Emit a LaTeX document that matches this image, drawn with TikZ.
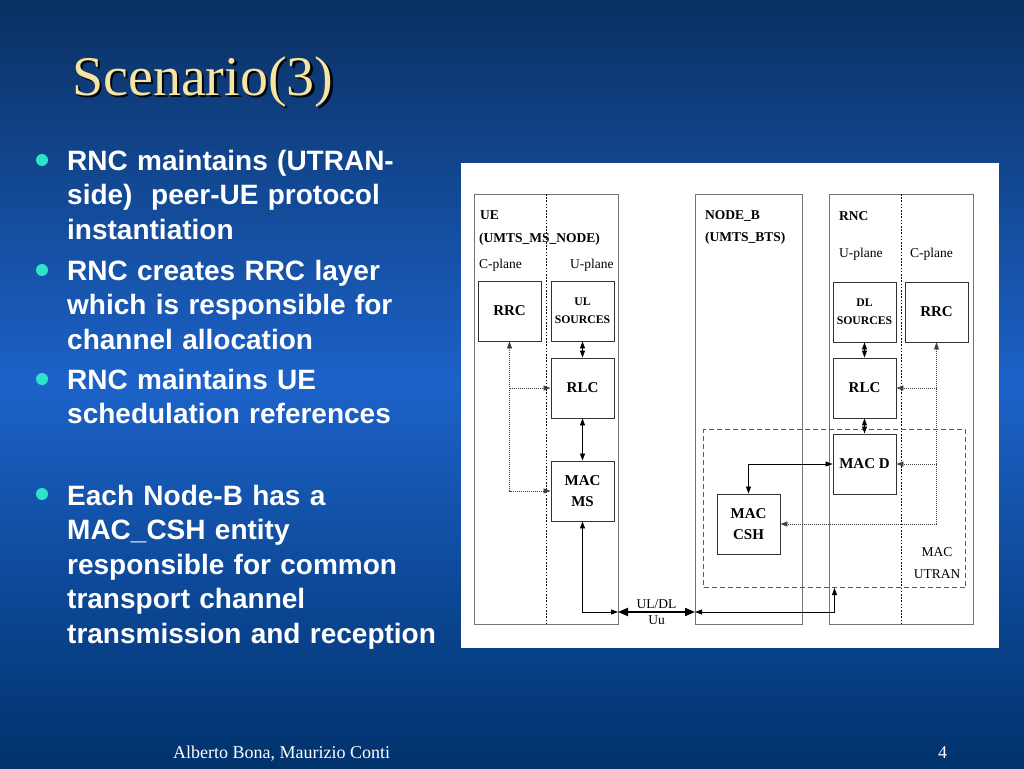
\documentclass[tikz,border=0pt]{standalone}
\usepackage{fontspec}
\setmainfont{Liberation Serif}
\newfontfamily\arialfont{Liberation Sans}
\usetikzlibrary{arrows.meta}

\definecolor{slidetop}{RGB}{10,48,98}
\definecolor{slidemid}{RGB}{28,98,200}
\definecolor{slidebot}{RGB}{0,50,108}
\definecolor{titlegold}{RGB}{246,228,160}
\definecolor{bulletcyan}{RGB}{45,228,200}

\tikzset{
	unit/.style={draw=black!55, line width=1pt, anchor=north west, inner sep=0pt},
	layer/.style={draw=black!80, line width=0.9pt, minimum width=63pt, minimum height=60pt,
		inner sep=0pt, align=center, font=\fontsize{15}{21}\selectfont\bfseries},
	srclayer/.style={layer, font=\fontsize{11.7}{18}\selectfont\bfseries},
	macbox/.style={draw=black!65, line width=1pt, dash pattern=on 5pt off 3pt, anchor=north west, inner sep=0pt},
	lbl/.style={anchor=base west, inner sep=0pt, font=\fontsize{13.5}{16}\selectfont},
	plane/.style={line width=1.6pt, dash pattern=on 1.6pt off 1.6pt},
	sig/.style={draw=black!75, line width=0.8pt, dash pattern=on 1pt off 1pt},
	data/.style={draw=black, line width=0.8pt},
	air/.style={line width=2pt, {Triangle[length=10pt,width=8pt]}-{Triangle[length=10pt,width=8pt]}},
	bullettext/.style={anchor=base west, align=left, text width=420pt, inner sep=0pt, text=white,
		font=\arialfont\bfseries\fontsize{28}{34.5}\selectfont},
	dot/.style={circle, fill=bulletcyan, minimum size=12pt, inner sep=0pt},
	titletext/.style={anchor=base west, inner sep=0pt, font=\fontsize{56}{60}\selectfont}
}

\begin{document}
\begin{tikzpicture}[x=1pt, y=-1pt, >={Triangle[length=7pt,width=5pt]}]
	\useasboundingbox (0,0) rectangle (1024,768);
	\shade[top color=slidetop, bottom color=slidebot, middle color=slidemid] (0,0) rectangle (1024,768);

	% title
	\node[titletext, text=black!85!slidetop] (titleshadow) at (74.5,97.5) {Scenario(3)};
	\node[titletext, text=titlegold] (title) at (72,95) {Scenario(3)};

	% bullets
	\node[dot] (d1) at (42,160) {};
	\node[bullettext] (b1) at (67,170) {RNC maintains (UTRAN-\\side)~ peer-UE protocol\\instantiation};
	\node[dot] (d2) at (42,270) {};
	\node[bullettext] (b2) at (67,280) {RNC creates RRC layer\\which is responsible for\\channel allocation};
	\node[dot] (d3) at (42,379) {};
	\node[bullettext] (b3) at (67,389) {RNC maintains UE\\schedulation references};
	\node[dot] (d4) at (42,494) {};
	\node[bullettext] (b4) at (67,505) {Each Node-B has a\\MAC\_CSH entity\\responsible for common\\transport channel\\transmission and reception};

	% diagram panel
	\node[fill=white, minimum width=538pt, minimum height=485pt, anchor=north west, inner sep=0pt] (panel) at (461,163) {};

	\node[unit, minimum width=144pt, minimum height=430pt] (ue) at (474,194) {};
	\node[unit, minimum width=107pt, minimum height=430pt] (nodeb) at (695,194) {};
	\node[unit, minimum width=144pt, minimum height=430pt] (rnc) at (829,194) {};
	\node[macbox, minimum width=262pt, minimum height=158pt] (utran) at (703,429) {};

	\draw[plane] (ue.north) -- (ue.south);
	\draw[plane] (rnc.north) -- (rnc.south);

	\node[lbl, font=\fontsize{13.5}{16}\selectfont\bfseries] (uename) at (480,219) {UE};
	\node[lbl, font=\fontsize{13.5}{16}\selectfont\bfseries] (uefull) at (479,242) {(UMTS\_MS\_NODE)};
	\node[lbl] (uecp) at (479,268) {C-plane};
	\node[lbl] (ueup) at (570,268) {U-plane};
	\node[lbl, font=\fontsize{13.5}{16}\selectfont\bfseries] (nbname) at (705,219) {NODE\_B};
	\node[lbl, font=\fontsize{13.5}{16}\selectfont\bfseries] (nbfull) at (705,241) {(UMTS\_BTS)};
	\node[lbl, font=\fontsize{13.5}{16}\selectfont\bfseries] (rncname) at (839,220) {RNC};
	\node[lbl] (rncup) at (839,257) {U-plane};
	\node[lbl] (rnccp) at (910,257) {C-plane};

	% UE stack
	\node[layer] (uerrc) at (509.5,311) {RRC};
	\node[srclayer] (ulsrc) at (582.5,311) {UL\\SOURCES};
	\node[layer] (uerlc) at (582.5,388) {RLC};
	\node[layer] (macms) at (582.5,491) {MAC\\MS};

	% RNC stack
	\node[srclayer] (dlsrc) at (864.5,312) {DL\\SOURCES};
	\node[layer] (rncrrc) at (936.5,312) {RRC};
	\node[layer] (rncrlc) at (864.5,388) {RLC};
	\node[layer] (macd) at (864.5,464) {MAC D};
	\node[layer] (maccsh) at (748.5,524) {MAC\\CSH};

	\node[lbl, anchor=base] (utranmac) at (937,556) {MAC};
	\node[lbl, anchor=base] (utranname) at (937,578) {UTRAN};

	\draw[data,<->] (ulsrc) -- (uerlc);
	\draw[data,<->] (uerlc) -- (macms);
	\draw[data,<->] (dlsrc) -- (rncrlc);
	\draw[data,<->] (rncrlc) -- (macd);
	\draw[data,<->] (macd.west) -| (maccsh.north);

	\draw[sig,<->] (uerrc.south) |- (macms.west);
	\draw[sig,->] (uerrc.south |- uerlc.west) -- (uerlc.west);
	\draw[sig,<->] (rncrrc.south) |- (maccsh.east);
	\draw[sig,->] (rncrrc.south |- rncrlc.east) -- (rncrlc.east);
	\draw[sig,->] (rncrrc.south |- macd.east) -- (macd.east);

	% air interface
	\coordinate (airL) at (618,612);
	\coordinate (airR) at (695,612);
	\draw[data,<->] (macms.south) |- (airL);
	\draw[air] (airL) -- node[lbl, anchor=south, yshift=2.5pt] (uldl) {UL/DL}
		node[lbl, anchor=north, yshift=-2.5pt] (uu) {Uu} (airR);
	\draw[data,<->] (airR) -| (utran.south);

	% footer
	\node[anchor=base west, inner sep=0pt, text=white, font=\fontsize{18}{20}\selectfont] (author) at (173,758) {Alberto Bona, Maurizio Conti};
	\node[anchor=base west, inner sep=0pt, text=white, font=\fontsize{18}{20}\selectfont] (pagenum) at (938,758) {4};
\end{tikzpicture}
\end{document}
